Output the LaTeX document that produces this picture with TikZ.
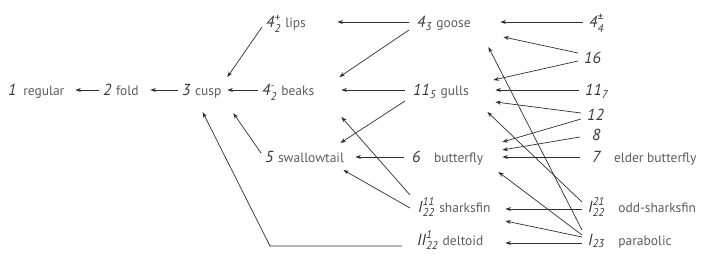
\documentclass[tikz,border=0pt]{standalone}
\usepackage{amsmath}
\usepackage{fontspec}
\setmainfont{PT Sans}
\usepackage{xcolor}
\usepackage{tikz}
\usetikzlibrary{arrows.meta}
\definecolor{LabelGray}{HTML}{5C5C5C}
\definecolor{NumGray}{HTML}{3A3A3A}
\definecolor{LineGray}{HTML}{2E2E2E}
\newcommand\labfont{\fontsize{13.5}{16}\selectfont}
\newcommand\nm[1]{{\fontsize{16}{19}\selectfont\itshape\color{NumGray}#1}}

\begin{document}
\begin{tikzpicture}[
    x=1pt, y=1pt,
    lbl/.style={anchor=base west, inner xsep=4pt, inner ysep=0pt, text height=14pt,
      text depth=2pt, align=left, font=\labfont, text=LabelGray},
    mid/.style={lbl, inner xsep=8pt},
    rgt/.style={lbl, inner xsep=6pt},
    arr/.style={-{Stealth[length=5.5pt,width=4pt]}, line width=0.7pt, draw=LineGray}
  ]
    \useasboundingbox (0,0) rectangle (709,257);

    % left part
    \node[lbl, text width=63pt] (regular) at (4,161) {\mbox{\nm{1}\enspace regular}};
    \node[lbl, text width=43pt] (fold) at (99,161) {\mbox{\nm{2} fold}};
    \node[lbl, text width=41pt] (cusp) at (178,161) {\mbox{\nm{3} cusp}};
    \node[lbl, text width=67pt] (lips) at (262,229) {\mbox{\nm{4$^{\textit{+}}_{\textit{2}}$} lips}};
    \node[lbl, text width=75pt] (beaks) at (258,161) {\mbox{\nm{4$^{\textit{-}}_{\textit{2}}$} beaks}};
    \node[lbl, text width=86pt] (swallowtail) at (261,94) {\mbox{\nm{5} swallowtail}};

    % middle column
    \node[mid, text width=75pt] (goose) at (409,229) {\mbox{\nm{4$_{\textit{3}}$}\ goose}};
    \node[mid, text width=74pt] (gulls) at (405,161) {\mbox{\nm{11$_{\textit{5}}$}\ gulls}};
    \node[mid, text width=82pt] (butterfly) at (404,94) {\mbox{\nm{6}\quad butterfly}};
    \node[mid, text width=79pt] (sharksfin) at (410,45) {\mbox{\nm{I$^{\textit{11}}_{\textit{22}}$} sharksfin}};
    \node[mid, text width=80pt] (deltoid) at (409,12) {\mbox{\nm{II$^{\textit{1}}_{\textit{22}}$}\ deltoid}};

    % right column
    \node[rgt] (pm44) at (583,229) {\nm{4$^{\textit{±}}_{\textit{4}}$}};
    \node[rgt] (n16) at (578,193) {\nm{16}};
    \node[rgt] (n117) at (579,161) {\nm{11$_{\textit{7}}$}};
    \node[rgt] (n12) at (581,136) {\nm{12}};
    \node[rgt, inner xsep=12pt] (n8) at (580,116) {\nm{8}};
    \node[rgt, inner xsep=12pt] (n7) at (580,94) {\nm{7}\quad elder butterfly};
    \node[rgt] (oddsf) at (582,45) {\nm{I$^{\textit{21}}_{\textit{22}}$}\quad odd-sharksfin};
    \node[rgt] (parab) at (582,12) {\nm{I$_{\textit{23}}$}\quad parabolic};

    \draw[arr] (fold.west) -- (regular.east);
    \draw[arr] (cusp.west) -- (fold.east);
    \draw[arr] (beaks.west) -- (cusp.east);
    \draw[arr] ([yshift=-5pt]lips.west) -- ([yshift=13pt]cusp.east);
    \draw[arr] ([yshift=4pt]swallowtail.west) -- ([xshift=6pt,yshift=-15pt]cusp.south east);
    \draw[arr] ([xshift=-7pt,yshift=-7pt]deltoid.west) -- ++(-132,0) -- ([yshift=-14pt]cusp.south);

    \draw[arr] (goose.west) -- (lips.east);
    \draw[arr] ([yshift=-8pt]goose.west) -- ([xshift=-2pt,yshift=13pt]beaks.east);
    \draw[arr] (gulls.west) -- (beaks.east);
    \draw[arr] ([yshift=-11pt]gulls.west) -- ([xshift=-15pt,yshift=14pt]swallowtail.east);
    \draw[arr] (butterfly.west) -- (swallowtail.east);
    \draw[arr] ([yshift=-2pt]sharksfin.west) -- ([xshift=-12pt,yshift=-13pt]swallowtail.east);
    \draw[arr] ([yshift=11pt]sharksfin.west) -- ([yshift=-27pt]beaks.east);

    \draw[arr] (pm44.west) -- (goose.east);
    \draw[arr] ([yshift=5pt]n16.west) -- ([xshift=3pt,yshift=-15pt]goose.east);
    \draw[arr] ([yshift=-3pt]n16.west) -- ([xshift=-2pt,yshift=10pt]gulls.east);
    \draw[arr] (n117.west) -- (gulls.east);
    \draw[arr] ([yshift=2pt]n12.west) -- ([yshift=-12pt]gulls.east);
    \draw[arr] ([yshift=-4pt]n12.west) -- ([yshift=15pt]butterfly.east);
    \draw[arr] ([yshift=-2pt]n8.west) -- ([yshift=7pt]butterfly.east);
    \draw[arr] (n7.west) -- (butterfly.east);
    \draw[arr] ([yshift=4pt]oddsf.west) -- ([xshift=-8pt,yshift=-22pt]gulls.east);
    \draw[arr] ([yshift=-3pt]oddsf.west) -- ([yshift=-3pt]sharksfin.east);
    \draw[arr] ([yshift=9pt]parab.west) -- ([xshift=-12pt,yshift=-25pt]goose.east);
    \draw[arr] ([yshift=4pt]parab.west) -- ([xshift=-4pt,yshift=-15pt]butterfly.east);
    \draw[arr] ([yshift=2pt]parab.west) -- ([yshift=-15pt]sharksfin.east);
    \draw[arr] ([yshift=-4pt]parab.west) -- ([yshift=-4pt]deltoid.east);
  \end{tikzpicture}
\end{document}
